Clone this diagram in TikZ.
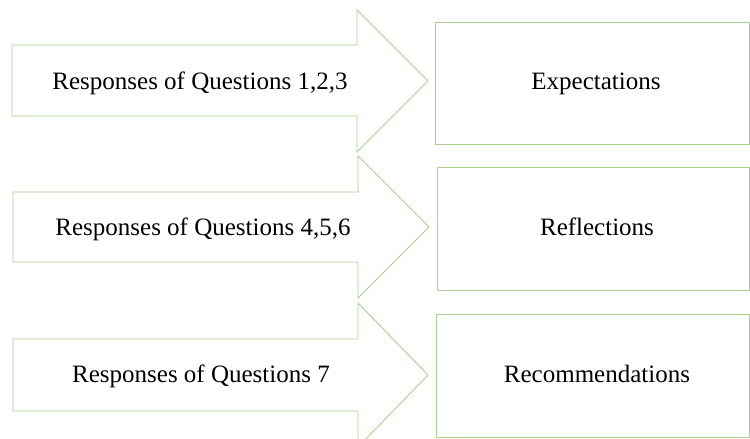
\documentclass[tikz,border=0pt]{standalone}
\usepackage{fontspec}
\setmainfont{Liberation Serif}
\definecolor{lgreen}{HTML}{A9D18E}
\tikzset{
  shapeline/.style={draw=lgreen, line width=0.9pt, fill=white, line join=miter},
  lbl/.style={font=\fontsize{25}{28}\selectfont, text=black, inner sep=0pt, anchor=base}
}
\begin{document}
\begin{tikzpicture}[x=1pt,y=-1pt]
\useasboundingbox (0,0) rectangle (750,439);
\begin{scope}
\clip (0,0) rectangle (750,439);
% arrows
\draw[shapeline] (12,45) -- (357,45) -- (357,10) -- (428,81) -- (357,152) -- (357,116) -- (12,116) -- cycle;
\draw[shapeline] (13,192) -- (358,192) -- (358,156) -- (429,227) -- (358,298) -- (358,262) -- (13,262) -- cycle;
\draw[shapeline] (13,339) -- (358,339) -- (358,303) -- (428,375) -- (358,447) -- (358,411) -- (13,411) -- cycle;
% boxes
\draw[shapeline] (435,22) rectangle (749,144);
\draw[shapeline] (437,167) rectangle (749,290);
\draw[shapeline] (436,314) rectangle (749,437);
\end{scope}
\node[lbl] (q1) at (200,89) {Responses of Questions 1,2,3};
\node[lbl] (q2) at (203,235) {Responses of Questions 4,5,6};
\node[lbl] (q3) at (201,382) {Responses of Questions 7};
\node[lbl] (e) at (596,89) {Expectations};
\node[lbl] (r) at (597,235) {Reflections};
\node[lbl] (c) at (597,382) {Recommendations};
\end{tikzpicture}
\end{document}
